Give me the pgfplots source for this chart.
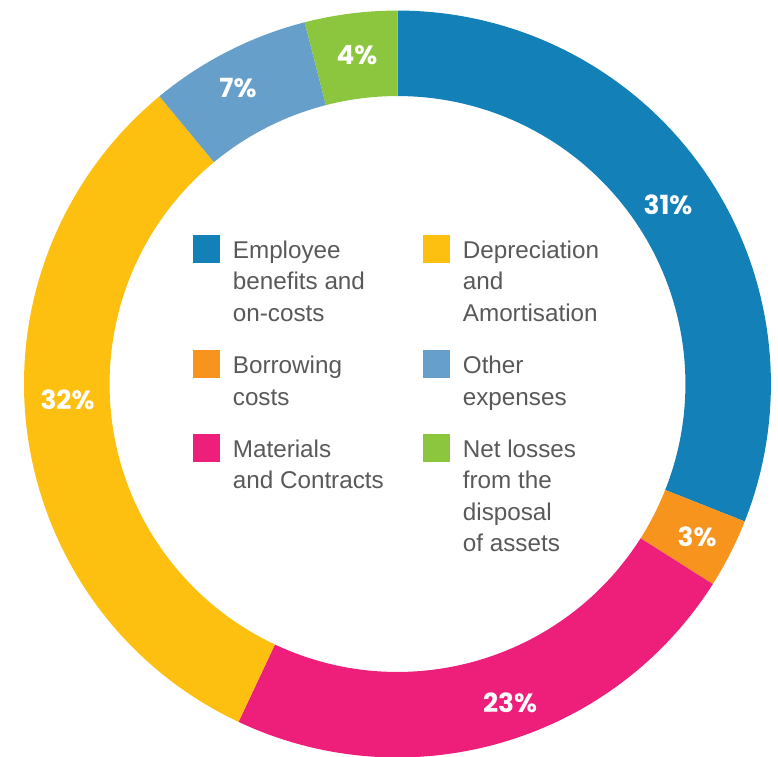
\documentclass[border=0pt]{standalone}
\usepackage{fontspec}
\setmainfont{Liberation Sans}
\newfontfamily\pctfont{Poppins}
\usepackage{pgfplots}
\usepackage{pgfplotstable}
\pgfplotsset{compat=1.18}

\definecolor{empblue}{HTML}{1380B8}
\definecolor{borrow}{HTML}{F7941D}
\definecolor{matcon}{HTML}{EE1F7A}
\definecolor{depam}{HTML}{FDC010}
\definecolor{other}{HTML}{659FCA}
\definecolor{netloss}{HTML}{8CC63F}
\definecolor{legtext}{HTML}{595959}

\tikzset{pctlabel/.style={text=white, inner sep=0pt,
    font=\pctfont\bfseries\fontsize{15}{16}\selectfont}}

% share of expenses, slice colour, label position (px from centre)
\pgfplotstableread{
pct col     lx     ly
31  empblue 270.5  179
3   borrow  299.5 -153
23  matcon  112.5 -319
32  depam  -330   -16
7   other  -159.5  296
4   netloss -40.5  329
}\costs

\begin{document}
\begin{tikzpicture}
\begin{axis}[
    x=0.02cm, y=0.02cm,
    xmin=-397.5, xmax=380.5,
    ymin=-373, ymax=384,
    hide axis, clip=false,
    legend columns=2,
    legend cell align=left,
    legend image code/.code={\fill[#1] (0pt,-12.5pt) rectangle (14.7pt,2.8pt);},
    legend style={
        at={(axis cs:-204.5,149)}, anchor=north west,
        draw=none, fill=none, inner sep=0pt,
        row sep=15pt,
        font=\fontsize{13.8}{17.9}\selectfont,
        cells={anchor=north west, align=left},
        nodes={inner sep=0pt, text=legtext},
        /tikz/every odd column/.append style={column sep=7.4pt},
        /tikz/every even column/.append style={column sep=22.5pt},
    },
]
\addlegendimage{empblue}
\addlegendentry{Employee\\benefits and\\on-costs}
\addlegendimage{depam}
\addlegendentry{Depreciation\\and\\Amortisation}
\addlegendimage{borrow}
\addlegendentry{Borrowing\\costs}
\addlegendimage{other}
\addlegendentry{Other\\expenses}
\addlegendimage{matcon}
\addlegendentry{Materials\\and Contracts}
\addlegendimage{netloss}
\addlegendentry{Net losses\\from the\\disposal\\of assets}

\pgfplotstablegetrowsof{\costs}
\pgfmathtruncatemacro{\last}{\pgfplotsretval-1}
\def\cum{0}
\pgfplotsforeachungrouped \i in {0,...,\last}{%
  \pgfplotstablegetelem{\i}{pct}\of\costs \let\pct=\pgfplotsretval
  \pgfplotstablegetelem{\i}{col}\of\costs \let\col=\pgfplotsretval
  \pgfplotstablegetelem{\i}{lx}\of\costs \let\lx=\pgfplotsretval
  \pgfplotstablegetelem{\i}{ly}\of\costs \let\ly=\pgfplotsretval
  \pgfmathsetmacro{\aone}{90-3.6*\cum}
  \pgfmathsetmacro{\cum}{\cum+\pct}
  \pgfmathsetmacro{\atwo}{90-3.6*\cum}
  \edef\temp{%
    \noexpand\fill[\col] ([shift={(\aone:7.47cm)}]axis cs:0,0)
      arc[start angle=\aone, end angle=\atwo, radius=7.47cm]
      -- ([shift={(\atwo:5.76cm)}]axis cs:0,0)
      arc[start angle=\atwo, end angle=\aone, radius=5.76cm] -- cycle;
    \noexpand\node[pctlabel] at (axis cs:\lx,\ly) {\pct\noexpand\%};
  }%
  \temp
}
\coordinate (bbsw) at (rel axis cs:0,0);
\coordinate (bbne) at (rel axis cs:1,1);
\end{axis}
% arc control points overshoot the ring, so the page is the axis box
\pgfresetboundingbox
\useasboundingbox (bbsw) rectangle (bbne);
\end{tikzpicture}
\end{document}
